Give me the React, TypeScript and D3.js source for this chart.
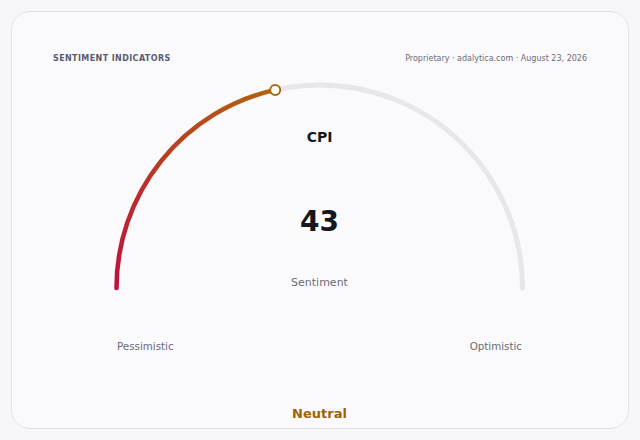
import React from "react";
import * as d3 from "d3";

const title = "SENTIMENT INDICATORS";
const source = "Proprietary · adalytica.com · August 23, 2026";
const indicator = "CPI";
const value = 43;
const domain = [0, 100];
const endLabels = ["Pessimistic", "Optimistic"];
const centerLabel = "Sentiment";
const statusLabel = "Neutral";

const W = 640;
const H = 440;
const FONT = "'DejaVu Sans', Verdana, sans-serif";

export default function App() {
  const cx = 319.5;
  const cy = 288;
  const r = 203;
  const ang = d3.scaleLinear().domain(domain).range([Math.PI, 2 * Math.PI]);

  const track = d3.path();
  track.arc(cx, cy, r, ang(domain[0]), ang(domain[1]), false);
  const valPath = d3.path();
  valPath.arc(cx, cy, r, ang(domain[0]), ang(value), false);

  const kx = cx + r * Math.cos(ang(value));
  const ky = cy + r * Math.sin(ang(value));
  const sx = cx + r * Math.cos(ang(domain[0]));
  const sy = cy + r * Math.sin(ang(domain[0]));

  return (
    <div style={{ position: "fixed", left: 0, top: 0, width: W, height: H }}>
      <svg width={W} height={H} style={{ display: "block" }}>
        <defs>
          <linearGradient id="valGrad" gradientUnits="userSpaceOnUse" x1={sx} y1={sy} x2={kx} y2={ky}>
            <stop offset="0%" stopColor="#be123c" />
            <stop offset="100%" stopColor="#b4620c" />
          </linearGradient>
        </defs>
        <rect x={0} y={0} width={W} height={H} fill="#f7f7fb" />
        <rect x={11.5} y={11.5} width={617} height={417} rx={18} fill="#fafafd" stroke="#e2e2ea" strokeWidth={1} />
        <text x={53} y={60.5} fontFamily={FONT} fontSize={8} fontWeight="bold" fill="#5b5b70" letterSpacing={0.4}>{title}</text>
        <text x={587} y={60.5} textAnchor="end" fontFamily={FONT} fontSize={8} fill="#6b6b78">{source}</text>

        <path d={track.toString()} fill="none" stroke="#e6e6eb" strokeWidth={5} strokeLinecap="round" />
        <path d={valPath.toString()} fill="none" stroke="url(#valGrad)" strokeWidth={4.5} strokeLinecap="round" />
        <circle cx={kx} cy={ky} r={5} fill="#ffffff" stroke="#a86a0e" strokeWidth={2} />

        <text x={cx} y={142} textAnchor="middle" fontFamily={FONT} fontSize={14} fontWeight="bold" fill="#16161d">{indicator}</text>
        <text x={cx} y={231} textAnchor="middle" fontFamily={FONT} fontSize={28} fontWeight="bold" fill="#16161d">{value}</text>
        <text x={cx} y={285.5} textAnchor="middle" fontFamily={FONT} fontSize={11} fill="#6b6b78">{centerLabel}</text>
        <text x={117} y={349.5} textAnchor="start" fontFamily={FONT} fontSize={10.3} fill="#6b6b78">{endLabels[0]}</text>
        <text x={522} y={349.5} textAnchor="end" fontFamily={FONT} fontSize={10.3} fill="#6b6b78">{endLabels[1]}</text>
        <text x={cx} y={418} textAnchor="middle" fontFamily={FONT} fontSize={13} fontWeight="bold" fill="#a16207">{statusLabel}</text>
      </svg>
    </div>
  );
}
